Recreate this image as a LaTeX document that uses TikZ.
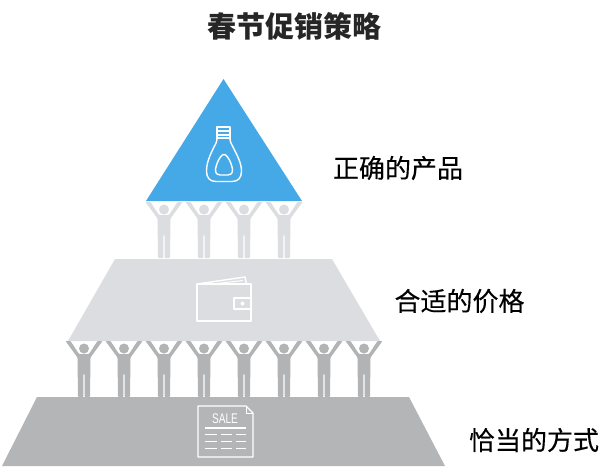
\documentclass[tikz,border=0pt]{standalone}
\usepackage{fontspec}
\setmainfont{Noto Sans CJK SC}
\setsansfont{Liberation Sans}
\newfontfamily\labelfont[FakeBold=0.25]{Noto Sans CJK SC}
\definecolor{topblue}{HTML}{45A9E8}
\definecolor{midgrey}{HTML}{DCDDE0}
\definecolor{lowgrey}{HTML}{B4B5B7}
\definecolor{mangrey}{HTML}{B1B3B5}
\tikzset{
  label/.style={font=\labelfont\fontsize{26}{30}\selectfont,text=black,inner sep=0pt},
  icon/.style={draw=white,line width=1.4pt,line join=round},
  lifter/.pic={
    \fill[pic actions,rounded corners=0.8pt] (-18.5,0) -- (-13.5,0) -- (-5,13) -- (5,13) -- (13.5,0) -- (18.5,0)
      -- (6.5,16.5) -- (6,56) -- (0.6,56) -- (0.6,33) -- (-0.6,33) -- (-0.6,56) -- (-6,56) -- (-6.5,16.5) -- cycle;
    \fill[pic actions] (0,7.5) circle (5);
  }
}
\begin{document}
\begin{tikzpicture}[x=1pt,y=-1pt]
\useasboundingbox (0,0) rectangle (600,476);

% Title
\node[inner sep=0pt,font=\fontsize{29}{34}\selectfont\bfseries,text=black!85] (title) at (294.5,26) {春节促销策略};

% Top
\fill[topblue] (223.5,79) -- (302,201) -- (146,201) -- cycle;

\foreach \x in {164,204,244,284}
{
\pic[fill=midgrey] at (\x,202) {lifter};
}

% Bottle
\draw[icon] (217,127) rectangle (230,138);
\draw[icon] (217,131) -- (230,131);
\draw[icon] (217,135) -- (230,135);
\draw[icon] (217,138) .. controls (217,142) and (216,143) .. (214,147)
  .. controls (210,155) and (206.5,163) .. (206.5,171)
  .. controls (206.5,178) and (210,181.5) .. (216,181.5) -- (232,181.5)
  .. controls (238,181.5) and (241.5,178) .. (241.5,171)
  .. controls (241.5,163) and (237,155) .. (233,147)
  .. controls (231,143) and (230,142) .. (230,138);
\draw[icon] (224,154.5) .. controls (228,154.5) and (232.5,166) .. (232.5,170)
  .. controls (232.5,174) and (230,175) .. (228,175) -- (220,175)
  .. controls (218,175) and (215.5,174) .. (215.5,170)
  .. controls (215.5,166) and (220,154.5) .. (224,154.5) -- cycle;

\node[label] (good) at (398,168) {正确的产品};

% Middle
\fill[midgrey] (115,259) -- (332,259) -- (380,341) -- (68,341) -- cycle;

\foreach \x in {84,124,164,204,244,284,324,364}
{
\pic[fill=mangrey] at (\x,341) {lifter};
}

% Wallet
\draw[icon] (197,284) rectangle (251,321);
\draw[icon] (234,298) rectangle (251,309);
\fill[white] (242.5,303.5) circle (2);
\draw[icon] (197,284) -- (245,277) -- (246.5,284);
\draw[icon,line width=1pt] (213,284) -- (243,280.5);

\node[label] (price) at (459.5,301) {合适的价格};

% Bottom
\fill[lowgrey] (37,397) -- (409,397) -- (445,466) -- (2,466) -- cycle;

% Sale sheet
\draw[icon] (198,406) -- (246,406) -- (253,413) -- (253,457) -- (198,457) -- cycle;
\draw[icon,line width=1pt] (246,406) -- (246,413) -- (253,413);
\node[inner sep=0pt,text=white,font=\sffamily\fontsize{14}{14}\selectfont,xscale=0.72] (sale) at (225,419) {SALE};
\draw[icon] (205,428) -- (246,428);

\foreach \y in {434.5,441.5,448.5}
{
\draw[icon,line width=1pt] (205,\y) -- (217,\y);
\draw[icon,line width=1pt] (221,\y) -- (232,\y);
\draw[icon,line width=1pt] (236,\y) -- (246,\y);
}

\node[label] (method) at (534,440) {恰当的方式};

\end{tikzpicture}
\end{document}
